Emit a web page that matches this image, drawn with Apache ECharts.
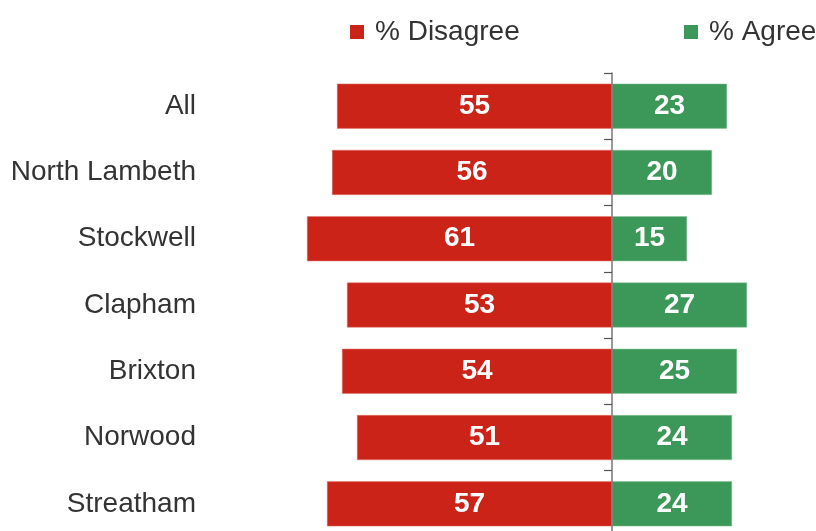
<!DOCTYPE html>
<html>
<head>
<meta charset="utf-8">
<script src="https://cdn.jsdelivr.net/npm/echarts@6/dist/echarts.min.js"></script>
<style>
  html, body { margin: 0; padding: 0; background: #fff; }
  #chart { width: 816px; height: 531px; }
</style>
</head>
<body>
<div id="chart"></div>
<script>
// Survey areas, top to bottom
const areas = ['All', 'North Lambeth', 'Stockwell', 'Clapham', 'Brixton', 'Norwood', 'Streatham'];
// Percentages per area
const disagree = [55, 56, 61, 53, 54, 51, 57];
const agree = [23, 20, 15, 27, 25, 24, 24];

const FONT = "'Liberation Sans', Arial, Helvetica, sans-serif";
const RED = '#cc2318';
const GREEN = '#3b9858';

const chart = echarts.init(document.getElementById('chart'), null, { renderer: 'canvas' });

const valueLabel = {
  show: true,
  position: 'inside',
  color: '#fff',
  fontFamily: FONT,
  fontWeight: 'bold',
  fontSize: 28,
  formatter: p => Math.abs(p.value)
};

const legendBase = {
  top: 13,
  itemWidth: 14,
  itemHeight: 14,
  icon: 'rect',
  selectedMode: false,
  itemStyle: { borderWidth: 0 },
  textStyle: { fontSize: 28, color: '#333', fontFamily: FONT, padding: [0, 0, 0, 6] }
};

chart.setOption({
  animation: false,
  textStyle: { fontFamily: FONT },
  legend: [
    Object.assign({ left: 345, data: ['% Disagree'] }, legendBase),
    Object.assign({ left: 679, data: ['% Agree'] }, legendBase)
  ],
  grid: { left: 287, top: 73, width: 525, height: 464, containLabel: false, outerBoundsMode: 'none' },
  xAxis: {
    type: 'value',
    min: -65,
    max: 40,
    show: false
  },
  yAxis: [
    {
      // area names on the left
      type: 'category',
      inverse: true,
      data: areas,
      position: 'left',
      axisLine: { show: false, onZero: false },
      axisTick: { show: false },
      axisLabel: { margin: 91, fontSize: 28, color: '#333', fontFamily: FONT, padding: [3, 0, 0, 0] }
    },
    {
      // centre line at zero with band ticks pointing left
      type: 'category',
      inverse: true,
      data: areas,
      position: 'right',
      z: 5,
      axisLine: { onZero: true, lineStyle: { color: '#777', width: 1.5 } },
      axisTick: { show: true, length: 8, inside: true, lineStyle: { color: '#555', width: 1.2 } },
      axisLabel: { show: false }
    }
  ],
  series: [
    {
      name: '% Disagree',
      type: 'bar',
      stack: 'total',
      barWidth: 45,
      itemStyle: { color: RED, borderColor: '#e1776f', borderWidth: 0.5 },
      label: valueLabel,
      data: disagree.map(v => -v)
    },
    {
      name: '% Agree',
      type: 'bar',
      stack: 'total',
      barWidth: 45,
      itemStyle: { color: GREEN, borderColor: '#8cc29c', borderWidth: 0.5 },
      label: valueLabel,
      data: agree
    }
  ]
});
</script>
</body>
</html>
